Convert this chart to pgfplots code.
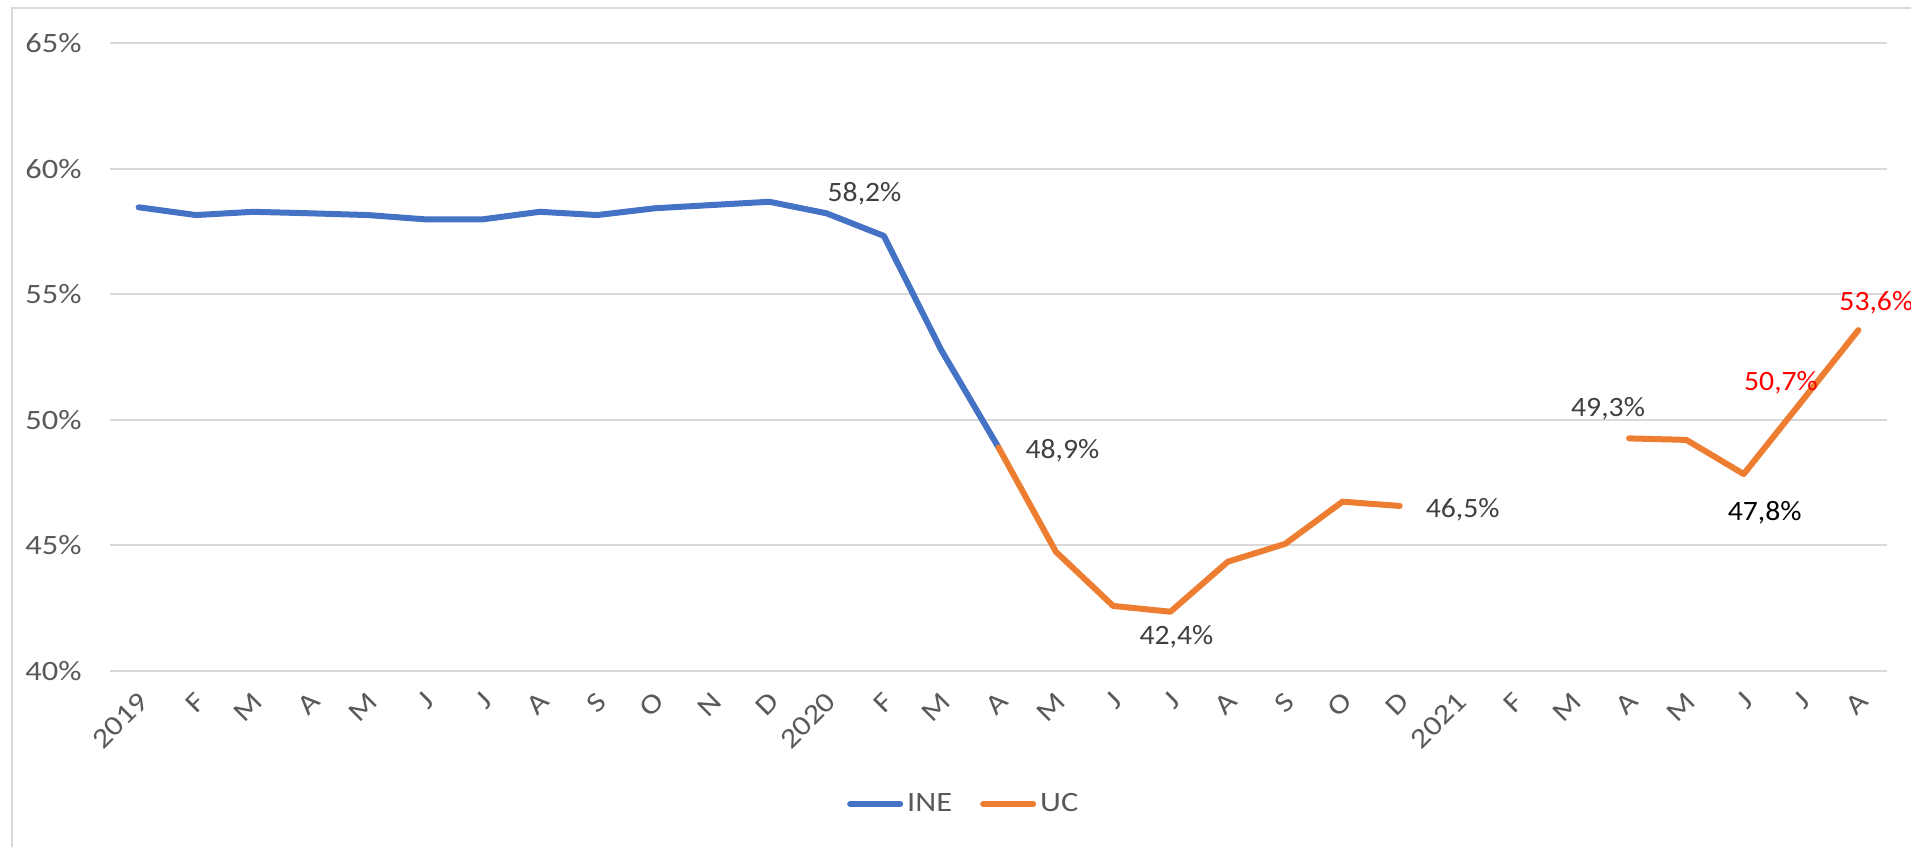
\documentclass[border=0pt]{standalone}
\usepackage{fontspec}
\setmainfont{Carlito}
\newfontfamily\tickfont{Carlito}[FakeStretch=1.16]
\newfontfamily\lblfont{Carlito}[FakeStretch=1.06]
\usepackage{pgfplots}
\usepackage{pgfplotstable}
\pgfplotsset{compat=1.18}

\definecolor{ine}{HTML}{4472C4}
\definecolor{uc}{HTML}{ED7D31}
\definecolor{gridgray}{HTML}{D9D9D9}
\definecolor{ticktxt}{HTML}{595959}
\definecolor{lbltxt}{HTML}{404040}

% month index, INE, UC (nan = no value)
\pgfplotstableread{
x  ine    uc
0  58.46  nan
1  58.15  nan
2  58.28  nan
3  58.22  nan
4  58.15  nan
5  57.98  nan
6  57.98  nan
7  58.28  nan
8  58.15  nan
9  58.42  nan
10 58.55  nan
11 58.68  nan
12 58.22  nan
13 57.32  nan
14 52.78  nan
15 48.90  48.90
16 nan    44.75
17 nan    42.59
18 nan    42.36
19 nan    44.35
20 nan    45.06
21 nan    46.74
22 nan    46.57
23 nan    nan
24 nan    nan
25 nan    nan
26 nan    49.26
27 nan    49.20
28 nan    47.84
29 nan    50.70
30 nan    53.57
}\datatable

\begin{document}
\begin{tikzpicture}[lbl/.style={font=\lblfont\fontsize{14}{16}\selectfont, text=lbltxt, inner sep=0pt}]
\path[use as bounding box] (0,0) rectangle (955.5pt,423.5pt);
\draw[gridgray, line width=0.8pt] (6pt,0) -- (6pt,419.5pt) -- (956pt,419.5pt);
\begin{axis}[
    at={(55pt,88pt)}, anchor=south west,
    scale only axis,
    width=888.5pt, height=314pt,
    xmin=-0.5, xmax=30.5,
    ymin=40, ymax=65,
    ytick={40,45,...,65},
    xtick={0,...,30},
    xticklabels={2019,F,M,A,M,J,J,A,S,O,N,D,2020,F,M,A,M,J,J,A,S,O,D,2021,F,M,A,M,J,J,A},
    /pgf/number format/assume math mode=true,
    yticklabel={\pgfmathprintnumber{\tick}\%},
    ymajorgrids,
    major grid style={gridgray, line width=1pt},
    axis line style={draw=none},
    major tick length=0pt,
    tick label style={font=\tickfont\fontsize{14}{16}\selectfont, text=ticktxt},
    yticklabel style={anchor=east, inner sep=0pt, xshift=-14pt},
    xticklabel style={xshift=2.5pt, yshift=-13pt, rotate=45, anchor=east, inner sep=0pt},
    unbounded coords=jump,
    clip=false,
    legend columns=2,
    legend style={at={(0.481,-0.212)}, anchor=center, draw=none, fill=none,
        font=\tickfont\fontsize{14}{16}\selectfont, text=ticktxt,
        /tikz/every even column/.append style={column sep=12pt}},
    legend image code/.code={\draw[#1, line cap=round] (0pt,0pt) -- (25pt,0pt);},
]
\addplot[ine, line width=3pt, line join=round, line cap=round] table[x=x, y=ine] {\datatable};
\addlegendentry{INE}
\addplot[uc, line width=3pt, line join=round, line cap=round] table[x=x, y=uc] {\datatable};
\addlegendentry{UC}

\node[lbl] at (axis cs:12,58.22) [xshift=19pt, yshift=10pt] {58,2\%};
\node[lbl] at (axis cs:15,48.9) [xshift=32pt, yshift=-1.5pt] {48,9\%};
\node[lbl] at (axis cs:18,42.36) [xshift=3pt, yshift=-12.5pt] {42,4\%};
\node[lbl] at (axis cs:22,46.57) [xshift=31.5pt, yshift=-2pt] {46,5\%};
\node[lbl] at (axis cs:26,49.26) [xshift=-10.5pt, yshift=15pt] {49,3\%};
\node[lbl, text=black] at (axis cs:28,47.84) [xshift=10.5pt, yshift=-19.5pt] {47,8\%};
\node[lbl, text=red] at (axis cs:29,50.7) [xshift=-10pt, yshift=9.5pt] {50,7\%};
\node[lbl, text=red] at (axis cs:30,53.57) [xshift=9pt, yshift=13.5pt] {53,6\%};
\end{axis}
\end{tikzpicture}
\end{document}
